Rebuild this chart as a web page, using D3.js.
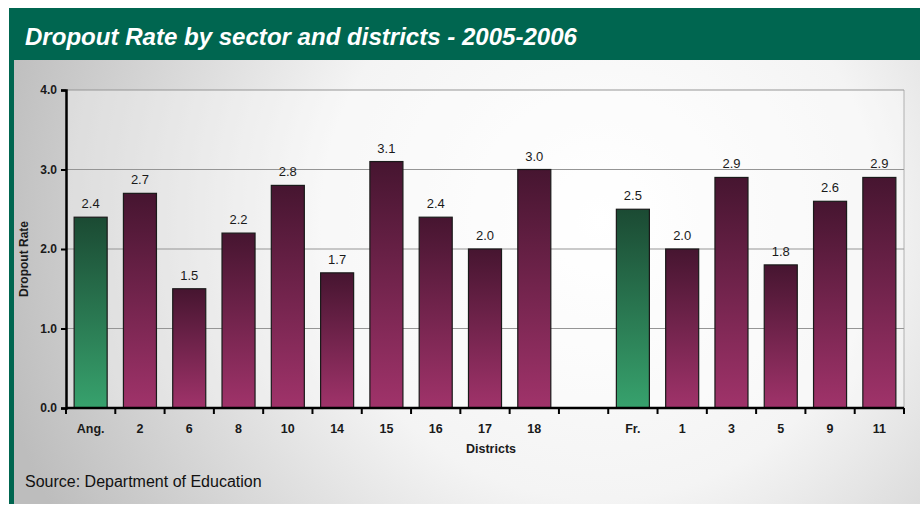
<!DOCTYPE html>
<html><head><meta charset="utf-8">
<script src="https://cdn.jsdelivr.net/npm/d3@7"></script>
<style>html,body{margin:0;padding:0;background:#fff;}svg{display:block;}</style>
</head><body>
<svg id="c" width="920" height="505"></svg>
<script>
const categories = ["Ang.","2","6","8","10","14","15","16","17","18","","Fr.","1","3","5","9","11"];
const values     = [2.4, 2.7, 1.5, 2.2, 2.8, 1.7, 3.1, 2.4, 2.0, 3.0, null, 2.5, 2.0, 2.9, 1.8, 2.6, 2.9];
const sectorTotals = ["Ang.","Fr."];
const yTicks = [0,1,2,3,4];
const titleText = "Dropout Rate by sector and districts - 2005-2006";
const sourceText = "Source: Department of Education";
const FF = "'Liberation Sans', Arial, sans-serif";

const svg = d3.select("#c");
const defs = svg.append("defs");

const bg = defs.append("radialGradient").attr("id","bg").attr("gradientUnits","userSpaceOnUse")
  .attr("cx",600).attr("cy",220).attr("r",620);
bg.append("stop").attr("offset","0").attr("stop-color","#ffffff");
bg.append("stop").attr("offset","0.45").attr("stop-color","#f4f4f4");
bg.append("stop").attr("offset","1").attr("stop-color","#bdbdbd");

const gP = defs.append("linearGradient").attr("id","gp").attr("x1",0).attr("y1",0).attr("x2",0).attr("y2",1);
gP.append("stop").attr("offset","0").attr("stop-color","#461530");
gP.append("stop").attr("offset","1").attr("stop-color","#a0336a");
const gG = defs.append("linearGradient").attr("id","gg").attr("x1",0).attr("y1",0).attr("x2",0).attr("y2",1);
gG.append("stop").attr("offset","0").attr("stop-color","#1b4a33");
gG.append("stop").attr("offset","1").attr("stop-color","#37a26d");

// frame
svg.append("rect").attr("x",9).attr("y",8).attr("width",911).attr("height",496).attr("fill","#006650");
svg.append("rect").attr("x",14).attr("y",60).attr("width",906).attr("height",444).attr("fill","url(#bg)");

svg.append("text").attr("x",25).attr("y",45).text(titleText)
  .style("font-family",FF).attr("font-weight","bold").attr("font-style","italic")
  .attr("font-size",23).attr("fill","#fff").attr("textLength",552).attr("lengthAdjust","spacingAndGlyphs");

const m = {l:66, r:904, t:90, b:408};
const x = d3.scaleBand().domain(categories.map((c,i)=>i)).range([m.l,m.r]).paddingInner(0.33).paddingOuter(0.165);
const y = d3.scaleLinear().domain([0,4]).range([m.b,m.t]);

// plot area tint
svg.append("rect").attr("x",m.l).attr("y",m.t).attr("width",m.r-m.l).attr("height",m.b-m.t)
  .attr("fill","#ffffff").attr("fill-opacity",0.35);
svg.append("line").attr("x1",m.r).attr("x2",m.r).attr("y1",m.t).attr("y2",m.b).attr("stroke","#b0b0b0");

// grid
svg.append("g").selectAll("line").data(yTicks.filter(d=>d>0)).join("line")
  .attr("x1",m.l).attr("x2",m.r).attr("y1",d=>y(d)).attr("y2",d=>y(d))
  .attr("stroke","#959595").attr("stroke-width",1.2);

// bars
const data = categories.map((c,i)=>({c,i,v:values[i]})).filter(d=>d.v!=null);
svg.append("g").selectAll("rect").data(data).join("rect")
  .attr("x",d=>x(d.i)).attr("width",x.bandwidth())
  .attr("y",d=>y(d.v)).attr("height",d=>y(0)-y(d.v))
  .attr("fill",d=>sectorTotals.includes(d.c)?"url(#gg)":"url(#gp)")
  .attr("stroke","#1a1a1a").attr("stroke-width",1.2);

svg.append("g").selectAll("text").data(data).join("text")
  .attr("x",d=>x(d.i)+x.bandwidth()/2).attr("y",d=>y(d.v)-9)
  .attr("text-anchor","middle").style("font-family",FF)
  .attr("font-size",13).attr("fill","#1a1a1a").text(d=>d3.format(".1f")(d.v));

// y axis
const ya = svg.append("g").attr("transform",`translate(${m.l},0)`)
  .call(d3.axisLeft(y).tickValues(yTicks).tickFormat(d3.format(".1f")).tickSize(5).tickPadding(4));
ya.select(".domain").attr("stroke","#000").attr("stroke-width",2.5);
ya.selectAll(".tick line").attr("stroke","#000").attr("stroke-width",2);
ya.selectAll("text").style("font-family",FF).attr("font-weight","bold")
  .attr("font-size",12).attr("fill","#1a1a1a");

// x axis
const step = x.step();
const xa = svg.append("g").attr("transform",`translate(0,${m.b})`);
xa.append("line").attr("x1",m.l).attr("x2",m.r).attr("y1",0).attr("y2",0).attr("stroke","#000").attr("stroke-width",2.5);
xa.selectAll("line.t").data(d3.range(categories.length+1)).join("line").attr("class","t")
  .attr("x1",i=>m.l+i*step).attr("x2",i=>m.l+i*step).attr("y1",0).attr("y2",6)
  .attr("stroke","#000").attr("stroke-width",2);
xa.selectAll("text").data(categories.map((c,i)=>({c,i}))).join("text")
  .attr("x",d=>x(d.i)+x.bandwidth()/2).attr("y",25).attr("text-anchor","middle")
  .style("font-family",FF).attr("font-weight","bold")
  .attr("font-size",12.5).attr("fill","#1a1a1a").text(d=>d.c);

svg.append("text").attr("x",491).attr("y",453).attr("text-anchor","middle")
  .style("font-family",FF).attr("font-weight","bold")
  .attr("font-size",12.5).attr("fill","#1a1a1a").text("Districts");
svg.append("text").attr("transform","translate(28,259) rotate(-90)").attr("text-anchor","middle")
  .style("font-family",FF).attr("font-weight","bold")
  .attr("font-size",12).attr("fill","#1a1a1a").text("Dropout Rate");

svg.append("text").attr("x",25).attr("y",487).style("font-family",FF)
  .attr("font-size",16).attr("fill","#111").text(sourceText);
</script>
</body></html>
